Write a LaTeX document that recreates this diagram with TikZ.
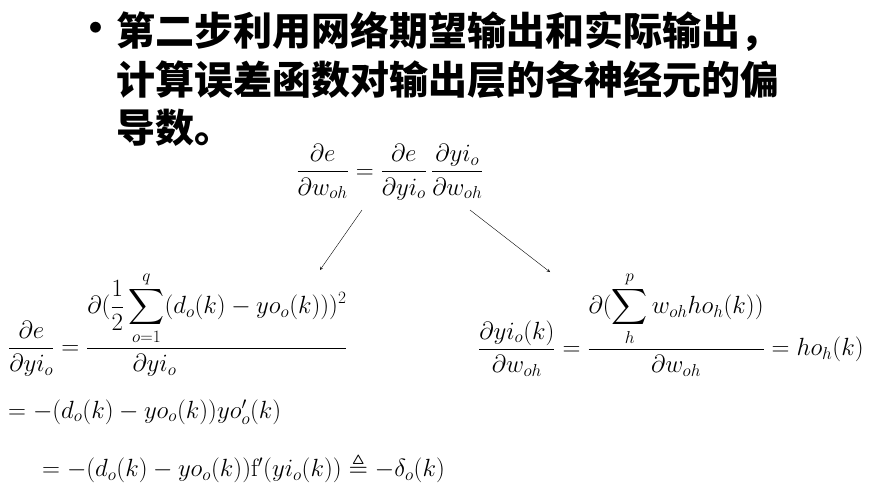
\documentclass[tikz,border=0pt]{standalone}
\usepackage{amsmath,amssymb}
\usepackage{fontspec}
\newfontfamily\cjk{Noto Sans CJK SC}
\usetikzlibrary{positioning}
\tikzstyle{tS}=[anchor=west,inner sep=0pt,font=\fontsize{39}{42}\selectfont\cjk\bfseries]
\tikzstyle{fS}=[inner sep=0pt,font=\fontsize{25}{30}\selectfont]
\tikzstyle{aS}=[thin,->,>=stealth]
\begin{document}
\begin{tikzpicture}[x=1pt,y=-1pt]
\useasboundingbox[fill=white] (0,0) rectangle (879,501);
% heading
\node[tS] (b0) at (76,32) {•};
\node[tS] (t1) at (116,32) {第二步利用网络期望输出和实际输出，};
\node[tS] (t2) at (116,80) {计算误差函数对输出层的各神经元的偏};
\node[tS] (t3) at (116,128) {导数。};
% formulas
\node[fS] (f0) at (390,172) {$\dfrac{\partial e}{\partial w_{oh}}=\dfrac{\partial e}{\partial yi_o}\,\dfrac{\partial yi_o}{\partial w_{oh}}$};
\node[fS,anchor=west] (f1) at (8,324) {$\dfrac{\partial e}{\partial yi_o}=\dfrac{\partial(\dfrac12\displaystyle\sum_{o=1}^{q}(d_o(k)-yo_o(k)))^2}{\partial yi_o\hspace{5em}}$};
\node[fS,anchor=west] (f2) at (8,412) {$=-(d_o(k)-yo_o(k))yo'_o(k)$};
\node[fS,anchor=west] (f3) at (42,468) {$=-(d_o(k)-yo_o(k))\mathrm{f}'(yi_o(k))\triangleq-\delta_o(k)$};
\node[fS,anchor=west] (f4) at (478,324) {$\dfrac{\partial yi_o(k)}{\partial w_{oh}}=\dfrac{\partial(\displaystyle\sum_{h}^{p}w_{oh}ho_h(k))}{\partial w_{oh}}=ho_h(k)$};
\coordinate (a0) at (362,210);
\coordinate (a1) at (320,270);
\coordinate (a2) at (470,210);
\coordinate (a3) at (550,272);
\draw[aS] (a0) -- (a1);
\draw[aS] (a2) -- (a3);
\end{tikzpicture}
\end{document}
